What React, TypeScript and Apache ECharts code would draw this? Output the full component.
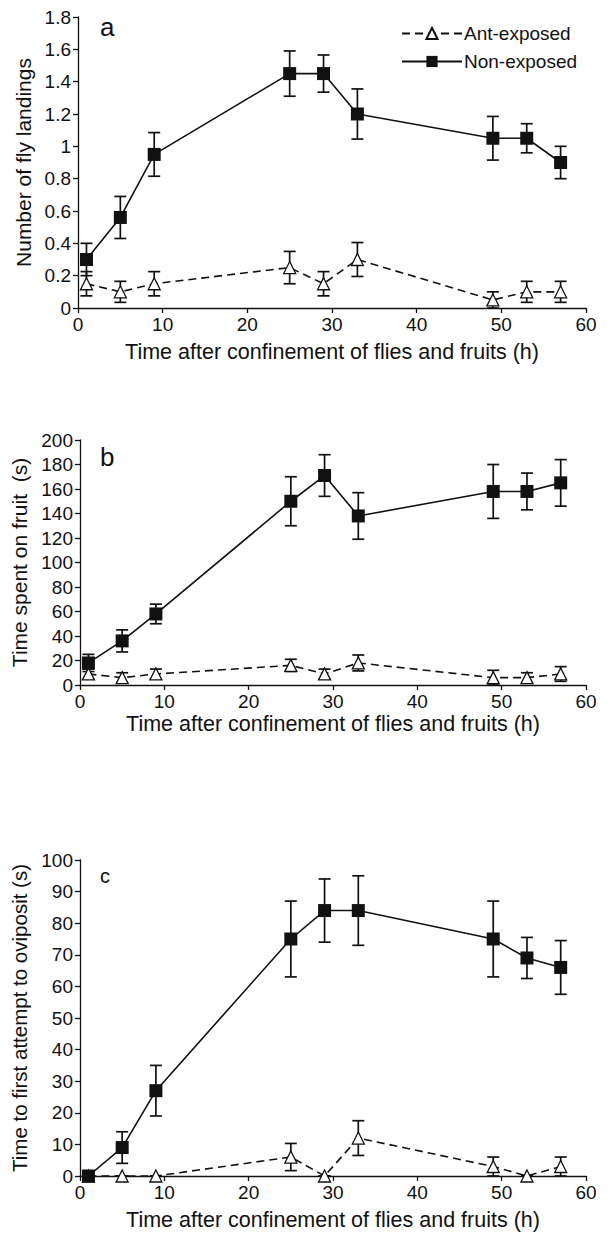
import React, { useEffect, useRef } from "react";
import * as echarts from "echarts";

const hours = [1, 5, 9, 25, 29, 33, 49, 53, 57];

// Panel a: number of fly landings
const landingsNon = [0.3, 0.56, 0.95, 1.45, 1.45, 1.2, 1.05, 1.05, 0.9];
const landingsNonSE = [0.1, 0.13, 0.135, 0.14, 0.115, 0.155, 0.135, 0.09, 0.1];
const landingsAnt = [0.15, 0.1, 0.15, 0.25, 0.15, 0.3, 0.05, 0.1, 0.1];
const landingsAntSE = [0.075, 0.065, 0.075, 0.1, 0.075, 0.105, 0.05, 0.065, 0.065];

// Panel b: time spent on fruit (s)
const timeNon = [18, 36, 58, 150, 171, 138, 158, 158, 165];
const timeNonSE = [7, 9, 8, 20, 17, 19, 22, 15, 19];
const timeAnt = [9, 6, 9, 16, 9, 18, 6, 6, 9];
const timeAntSE = [4, 4, 4, 5, 4, 6.5, 6, 4, 6];

// Panel c: time to first attempt to oviposit (s)
const ovipNon = [0, 9, 27, 75, 84, 84, 75, 69, 66];
const ovipNonSE = [0, 5, 8, 12, 10, 11, 12, 6.5, 8.5];
const ovipAnt = [0, 0, 0, 6, 0, 12, 3, 0, 3];
const ovipAntSE = [0, 0, 0, 4.3, 0, 5.5, 3, 0, 3];

const xTicks = [0, 10, 20, 30, 40, 50, 60];

const FONT = "Liberation Sans";
const INK = "#111";

function errData(means: number[], se: number[]) {
  return hours.map((h, i) => [h, means[i] - se[i], means[i] + se[i]]);
}

function errSeries(idx: number, means: number[], se: number[]) {
  return {
    type: "custom",
    xAxisIndex: idx,
    yAxisIndex: idx,
    silent: true,
    z: 3,
    data: errData(means, se),
    renderItem: (params: any, api: any) => {
      const x = api.value(0);
      const lo = api.coord([x, api.value(1)]);
      const hi = api.coord([x, api.value(2)]);
      const cap = 6;
      const style = { stroke: INK, lineWidth: 1.7 };
      return {
        type: "group",
        children: [
          { type: "line", shape: { x1: lo[0], y1: lo[1], x2: hi[0], y2: hi[1] }, style },
          { type: "line", shape: { x1: lo[0] - cap, y1: lo[1], x2: lo[0] + cap, y2: lo[1] }, style },
          { type: "line", shape: { x1: hi[0] - cap, y1: hi[1], x2: hi[0] + cap, y2: hi[1] }, style },
        ],
      };
    },
  };
}

function lineSeries(idx: number, name: string, means: number[], ant: boolean) {
  return {
    type: "line",
    name,
    xAxisIndex: idx,
    yAxisIndex: idx,
    z: 4,
    data: hours.map((h, i) => [h, means[i]]),
    symbol: ant ? "triangle" : "rect",
    symbolSize: ant ? 12 : 13,
    showAllSymbol: true,
    lineStyle: { color: INK, width: 1.6, type: ant ? [8, 5] : "solid" },
    itemStyle: ant
      ? { color: "#fff", borderColor: INK, borderWidth: 1.3 }
      : { color: INK, borderColor: INK, borderWidth: 0 },
  };
}

const grids = [
  { left: 78, right: 25, top: 17, height: 291 },
  { left: 80, right: 25, top: 440, height: 245 },
  { left: 80, right: 25, top: 860, height: 316 },
];

const yNames = [
  "Number of fly landings",
  "Time spent on fruit  (s)",
  "Time to first attempt to oviposit (s)",
];
const yMax = [1.8, 200, 100];
const yInt = [0.2, 20, 10];
const yGaps = [32, 27, 46];
const yNameSizes = [21, 21, 20.5];
const xGaps = [33, 28, 33];
const panelLabels = ["a", "b", "c"];
const labelTops = [14, 444, 866];
const labelSizes = [26, 26, 20];

export default function App() {
  const ref = useRef<HTMLDivElement>(null);
  useEffect(() => {
    document.body.style.margin = "0";
    const chart = echarts.init(ref.current!, undefined, { renderer: "svg" });
    const axisLine = { show: true, lineStyle: { color: INK, width: 1.3 } };
    const axisTick = { show: true, inside: false, length: 5, lineStyle: { color: INK, width: 1.3 } };
    const axisLabel = { color: INK, fontFamily: FONT, fontSize: 19 };
    chart.setOption({
      animation: false,
      backgroundColor: "#fff",
      grid: grids,
      legend: {
        left: 396,
        top: 19,
        orient: "vertical",
        itemWidth: 60,
        itemHeight: 14,
        itemGap: 9,
        data: ["Ant-exposed", "Non-exposed"],
        textStyle: { color: INK, fontFamily: FONT, fontSize: 19, padding: [0, 0, 0, -3] },
      },
      xAxis: grids.map((_, i) => ({
        type: "value",
        gridIndex: i,
        min: xTicks[0],
        max: xTicks[xTicks.length - 1],
        interval: 10,
        splitLine: { show: false },
        axisLine,
        axisTick,
        axisLabel: { ...axisLabel, margin: 7 },
        name: "Time after confinement of flies and fruits (h)",
        nameLocation: "middle",
        nameGap: xGaps[i],
        nameTextStyle: { color: INK, fontFamily: FONT, fontSize: 21.5 },
      })),
      yAxis: grids.map((_, i) => ({
        type: "value",
        gridIndex: i,
        min: 0,
        max: yMax[i],
        interval: yInt[i],
        splitLine: { show: false },
        axisLine,
        axisTick,
        axisLabel: { ...axisLabel, margin: 7 },
        name: yNames[i],
        nameLocation: "middle",
        nameRotate: 90,
        nameGap: yGaps[i],
        nameTextStyle: { color: INK, fontFamily: FONT, fontSize: yNameSizes[i] },
      })),
      graphic: panelLabels.map((t, i) => ({
        type: "text",
        left: 100,
        top: labelTops[i],
        style: { text: t, fill: INK, font: `${labelSizes[i]}px ${FONT}` },
      })),
      series: [
        errSeries(0, landingsAnt, landingsAntSE),
        errSeries(0, landingsNon, landingsNonSE),
        lineSeries(0, "Ant-exposed", landingsAnt, true),
        lineSeries(0, "Non-exposed", landingsNon, false),
        errSeries(1, timeAnt, timeAntSE),
        errSeries(1, timeNon, timeNonSE),
        lineSeries(1, "Ant-exposed", timeAnt, true),
        lineSeries(1, "Non-exposed", timeNon, false),
        errSeries(2, ovipAnt, ovipAntSE),
        errSeries(2, ovipNon, ovipNonSE),
        lineSeries(2, "Ant-exposed", ovipAnt, true),
        lineSeries(2, "Non-exposed", ovipNon, false),
      ],
    });
    return () => chart.dispose();
  }, []);
  return <div ref={ref} style={{ width: 611, height: 1250 }} />;
}
